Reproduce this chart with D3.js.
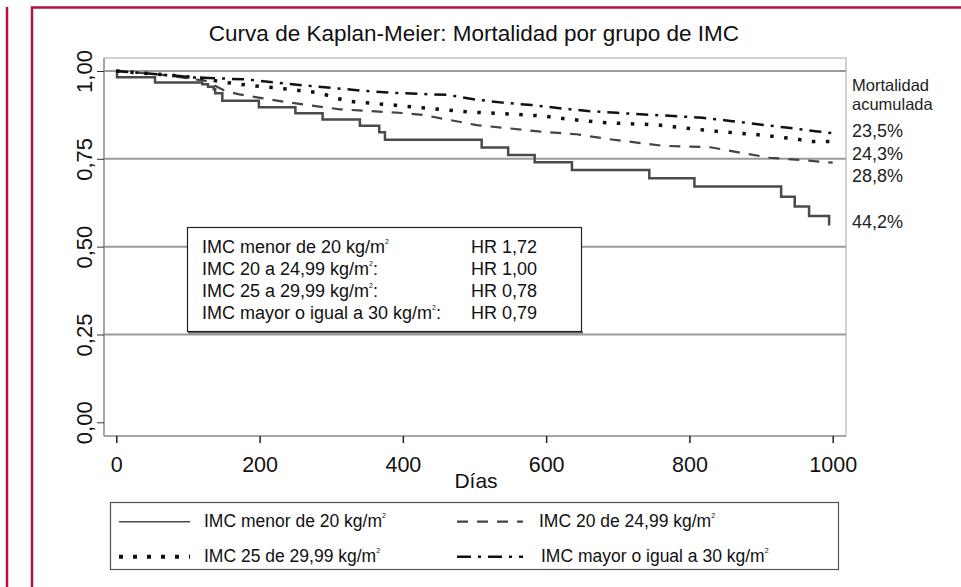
<!DOCTYPE html>
<html>
<head>
<meta charset="utf-8">
<script src="https://cdn.jsdelivr.net/npm/d3@7"></script>
<style>
  body { margin: 0; background: #fff; }
  svg { display: block; font-family: "Liberation Sans", Arial, sans-serif; }
</style>
</head>
<body>
<svg id="chart" width="961" height="587"></svg>
<script>
// Kaplan-Meier curves: [day, survival]
const groupNames = ["IMC menor de 20 kg/m", "IMC 20 de 24,99 kg/m", "IMC 25 de 29,99 kg/m", "IMC mayor o igual a 30 kg/m"];
const imcMenor20 = [[0,1.0],[1,0.982],[54,0.967],[120,0.962],[128,0.955],[136,0.948],[138,0.937],[148,0.915],[199,0.897],[250,0.880],[288,0.862],[340,0.844],[367,0.826],[375,0.804],[510,0.782],[547,0.761],[584,0.740],[636,0.718],[744,0.695],[807,0.671],[928,0.642],[947,0.614],[967,0.587],[995,0.560]];
const imc20a25 = [[0,1.0],[60,0.99],[125,0.972],[150,0.945],[170,0.934],[220,0.917],[242,0.910],[312,0.891],[403,0.880],[428,0.875],[503,0.846],[595,0.827],[642,0.820],[688,0.806],[763,0.787],[829,0.783],[875,0.766],[912,0.753],[954,0.747],[1000,0.739]];
const imc25a30 = [[0,1.0],[80,0.987],[125,0.979],[143,0.970],[182,0.960],[222,0.952],[280,0.939],[298,0.929],[319,0.916],[337,0.911],[377,0.905],[417,0.897],[456,0.890],[496,0.883],[555,0.877],[595,0.872],[635,0.862],[674,0.854],[714,0.850],[753,0.847],[810,0.834],[850,0.826],[889,0.820],[929,0.811],[950,0.806],[971,0.799],[1000,0.799]];
const imcMayor30 = [[0,1.0],[76,0.988],[104,0.982],[182,0.976],[224,0.967],[256,0.960],[305,0.951],[344,0.944],[385,0.938],[421,0.935],[462,0.932],[501,0.919],[539,0.910],[580,0.903],[619,0.894],[658,0.886],[699,0.881],[737,0.876],[777,0.872],[818,0.867],[857,0.858],[898,0.848],[935,0.839],[979,0.828],[1000,0.823]];

const hrLabels = ["IMC menor de 20 kg/m", "IMC 20 a 24,99 kg/m", "IMC 25 a 29,99 kg/m", "IMC mayor o igual a 30 kg/m"];
const hrValues = ["HR 1,72", "HR 1,00", "HR 0,78", "HR 0,79"];
const mortalidad = ["23,5%", "24,3%", "28,8%", "44,2%"];
const yTicks = [0, 0.25, 0.5, 0.75, 1];
const xTicks = [0, 200, 400, 600, 800, 1000];

const svg = d3.select("#chart");
const red = "#b3123c";

// outer red frame
svg.append("line").attr("x1", 7).attr("x2", 7).attr("y1", 7).attr("y2", 587)
    .attr("stroke", red).attr("stroke-width", 2.5);
svg.append("path").attr("d", "M32,587 V7.5 H961")
    .attr("fill", "none").attr("stroke", red).attr("stroke-width", 2.5);

const x = d3.scaleLinear().domain([0, 1000]).range([116.3, 832.7]);
const y = d3.scaleLinear().domain([0, 1]).range([422.3, 71]);
const plotLeft = 104, plotRight = 846, plotTop = 58, plotBottom = 436;

svg.append("text").attr("x", 474).attr("y", 41).attr("text-anchor", "middle")
    .style("font-size", "22.5px").attr("fill", "#111")
    .text("Curva de Kaplan-Meier: Mortalidad por grupo de IMC");

// plot frame (light)
svg.append("path").attr("d", `M${plotLeft},${plotTop} H${plotRight} V${plotBottom}`)
    .attr("fill", "none").attr("stroke", "#c4c4c4").attr("stroke-width", 1.5);

// horizontal grid lines
svg.append("g").selectAll("line").data(yTicks.filter(d => d > 0)).join("line")
    .attr("x1", plotLeft).attr("x2", plotRight)
    .attr("y1", d => y(d)).attr("y2", d => y(d))
    .attr("stroke", "#9a9a9a").attr("stroke-width", 2);

// y axis
const yAxis = svg.append("g").attr("transform", `translate(${plotLeft},0)`)
    .call(d3.axisLeft(y).tickValues(yTicks).tickSize(7).tickFormat(d => d3.format(".2f")(d).replace(".", ",")));
yAxis.select(".domain").attr("stroke", "#888").attr("stroke-width", 1.5).attr("d", `M0,${plotTop}V${plotBottom}`);
yAxis.selectAll(".tick line").attr("stroke", "#333");
yAxis.selectAll(".tick text")
    .attr("x", null).attr("dy", null)
    .attr("text-anchor", "middle")
    .attr("transform", "translate(-12.5,0) rotate(-90)")
    .style("font-size", "22px").attr("fill", "#111");

// x axis
const xAxis = svg.append("g").attr("transform", `translate(0,${plotBottom})`)
    .call(d3.axisBottom(x).tickValues(xTicks).tickSize(7).tickFormat(d3.format("d")));
xAxis.select(".domain").attr("stroke", "#888").attr("stroke-width", 1.5).attr("d", `M${plotLeft},0H${plotRight}`);
xAxis.selectAll(".tick line").attr("stroke", "#222").attr("stroke-width", 1.5);
xAxis.selectAll(".tick text").attr("y", 36).attr("dy", null).style("font-size", "21.5px").attr("fill", "#111");

svg.append("text").attr("x", 476).attr("y", 488).attr("text-anchor", "middle")
    .style("font-size", "21px").attr("fill", "#111").text("Días");

// curves
const line = d3.line().x(d => x(d[0])).y(d => y(d[1]));
const stepLine = d3.line().x(d => x(d[0])).y(d => y(d[1])).curve(d3.curveStepAfter);
const styles = [
  { data: imcMenor20, gen: stepLine, color: "#4a4a4a", width: 2.5, dash: null },
  { data: imc20a25, gen: line, color: "#444", width: 2.2, dash: "11,9" },
  { data: imc25a30, gen: line, color: "#111", width: 3.5, dash: "3.5,10.5" },
  { data: imcMayor30, gen: line, color: "#111", width: 2.5, dash: "12,7,3,7" }
];
styles.forEach(s => {
  svg.append("path").attr("d", s.gen(s.data))
      .attr("fill", "none").attr("stroke", s.color).attr("stroke-width", s.width)
      .attr("stroke-dasharray", s.dash);
});

// right annotations
svg.append("text").attr("x", 852).attr("y", 91).style("font-size", "16.5px").attr("fill", "#222").text("Mortalidad");
svg.append("text").attr("x", 852).attr("y", 110).style("font-size", "16.5px").attr("fill", "#222").text("acumulada");
const annY = [137, 159.5, 182, 228];
svg.append("g").selectAll("text").data(mortalidad).join("text")
    .attr("x", 852).attr("y", (d, i) => annY[i])
    .style("font-size", "18px").attr("fill", "#222").text(d => d);

// inner HR box
svg.append("line").attr("x1", 188).attr("x2", 583).attr("y1", 332.5).attr("y2", 332.5).attr("stroke", "#666").attr("stroke-width", 2);
svg.append("rect").attr("x", 187.5).attr("y", 227.5).attr("width", 394).attr("height", 104)
    .attr("fill", "#fff").attr("stroke", "#222").attr("stroke-width", 1.2);
const hr = svg.append("g").selectAll("g").data(hrLabels).join("g")
    .attr("transform", (d, i) => `translate(0,${252.7 + i * 22.2})`);
hr.append("text").attr("x", 202).style("font-size", "18px").attr("fill", "#111")
    .each(function(d, i) {
      const t = d3.select(this);
      t.append("tspan").text(d);
      t.append("tspan").attr("dy", -9).style("font-size", "7px").text("2");
      t.append("tspan").attr("dy", 9).text(i === 0 ? "" : ":");
    });
hr.append("text").attr("x", 471).style("font-size", "18px").attr("fill", "#111")
    .text((d, i) => hrValues[i]);

// bottom legend
svg.append("rect").attr("x", 110.5).attr("y", 502.5).attr("width", 728).attr("height", 67)
    .attr("fill", "none").attr("stroke", "#555").attr("stroke-width", 1.2);
const legPos = [[119, 521.7], [457, 521.7], [119, 556.7], [457, 556.7]];
const legText = [204, 539, 204, 541];
styles.forEach((s, i) => {
  const [lx, ly] = legPos[i];
  const len = i < 2 && i === 0 ? 71 : (i === 2 ? 71 : 66);
  svg.append("line").attr("x1", lx).attr("x2", lx + len).attr("y1", ly).attr("y2", ly)
      .attr("stroke", s.color).attr("stroke-width", i === 0 ? 1.5 : (i === 2 ? 4 : s.width))
      .attr("stroke-dasharray", i === 2 ? "4,10" : (i === 3 ? "14,7,3,7" : s.dash));
  const t = svg.append("text").attr("x", legText[i]).attr("y", ly + 5.3)
      .style("font-size", "17.5px").attr("fill", "#111");
  t.append("tspan").text(groupNames[i]);
  t.append("tspan").attr("dy", -9).style("font-size", "7px").text("2");
});
</script>
</body>
</html>
